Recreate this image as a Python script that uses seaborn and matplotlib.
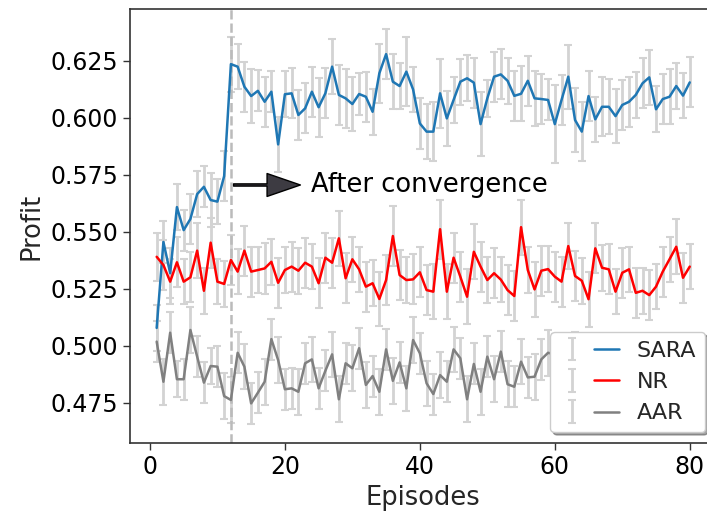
import numpy as np
import pandas as pd
import seaborn as sns
import matplotlib
matplotlib.use("Agg")
import matplotlib.pyplot as plt
from matplotlib.legend_handler import HandlerTuple

# ---- data -------------------------------------------------------------
episodes = list(range(1, 81))

sara = [0.5078, 0.5455, 0.5318, 0.5608, 0.5507, 0.5556, 0.5665, 0.5697, 0.5639, 0.5632,
        0.5744, 0.6235, 0.6224, 0.6136, 0.6095, 0.6118, 0.6070, 0.6114, 0.5883, 0.6103,
        0.6107, 0.6012, 0.6041, 0.6114, 0.6046, 0.6107, 0.6224, 0.6100, 0.6085, 0.6060,
        0.6104, 0.6092, 0.6026, 0.6195, 0.6279, 0.6158, 0.6139, 0.6202, 0.6124, 0.5975,
        0.5939, 0.5939, 0.6107, 0.5997, 0.6078, 0.6158, 0.6173, 0.6154, 0.5972, 0.6085,
        0.6180, 0.6190, 0.6162, 0.6096, 0.6105, 0.6162, 0.6085, 0.6082, 0.6078, 0.5972,
        0.6078, 0.6180, 0.5990, 0.5939, 0.6095, 0.5993, 0.6048, 0.6048, 0.6007, 0.6056,
        0.6070, 0.6100, 0.6151, 0.6177, 0.6037, 0.6082, 0.6092, 0.6139, 0.6097, 0.6155]
sara_err = [0.010, 0.009, 0.011, 0.010, 0.009, 0.011, 0.010, 0.009, 0.012, 0.010,
            0.011, 0.012, 0.010, 0.011, 0.012, 0.009, 0.011, 0.009, 0.012, 0.010,
            0.011, 0.011, 0.011, 0.011, 0.013, 0.011, 0.012, 0.013, 0.013, 0.012,
            0.009, 0.011, 0.010, 0.013, 0.011, 0.012, 0.010, 0.015, 0.010, 0.011,
            0.012, 0.013, 0.015, 0.012, 0.010, 0.010, 0.010, 0.011, 0.014, 0.008,
            0.011, 0.011, 0.010, 0.011, 0.012, 0.011, 0.012, 0.011, 0.009, 0.017,
            0.011, 0.014, 0.014, 0.013, 0.011, 0.010, 0.013, 0.012, 0.012, 0.011,
            0.011, 0.010, 0.011, 0.012, 0.010, 0.011, 0.012, 0.010, 0.010, 0.011]

nr = [0.5390, 0.5354, 0.5281, 0.5366, 0.5281, 0.5300, 0.5417, 0.5241, 0.5452, 0.5281,
      0.5271, 0.5376, 0.5325, 0.5417, 0.5325, 0.5332, 0.5339, 0.5368, 0.5276, 0.5332,
      0.5347, 0.5329, 0.5364, 0.5347, 0.5274, 0.5386, 0.5364, 0.5471, 0.5296, 0.5379,
      0.5335, 0.5259, 0.5274, 0.5205, 0.5288, 0.5481, 0.5310, 0.5288, 0.5291, 0.5322,
      0.5244, 0.5237, 0.5511, 0.5237, 0.5386, 0.5303, 0.5215, 0.5412, 0.5347, 0.5288,
      0.5318, 0.5290, 0.5244, 0.5218, 0.5520, 0.5332, 0.5247, 0.5329, 0.5336, 0.5303,
      0.5281, 0.5437, 0.5306, 0.5285, 0.5204, 0.5427, 0.5342, 0.5335, 0.5237, 0.5320,
      0.5335, 0.5232, 0.5241, 0.5222, 0.5259, 0.5325, 0.5379, 0.5434, 0.5298, 0.5347]
nr_err = [0.0105, 0.011, 0.010, 0.011, 0.010, 0.011, 0.012, 0.010, 0.011, 0.010,
          0.010, 0.011, 0.010, 0.011, 0.011, 0.010, 0.011, 0.010, 0.011, 0.010,
          0.011, 0.010, 0.011, 0.010, 0.011, 0.011, 0.011, 0.012, 0.011, 0.010,
          0.010, 0.011, 0.010, 0.012, 0.011, 0.013, 0.011, 0.010, 0.011, 0.011,
          0.011, 0.012, 0.013, 0.012, 0.011, 0.011, 0.012, 0.012, 0.011, 0.010,
          0.011, 0.010, 0.011, 0.011, 0.012, 0.010, 0.012, 0.011, 0.010, 0.011,
          0.011, 0.010, 0.011, 0.010, 0.012, 0.011, 0.010, 0.011, 0.010, 0.011,
          0.010, 0.011, 0.010, 0.011, 0.010, 0.011, 0.010, 0.012, 0.011, 0.010]

aar = [0.5018, 0.4842, 0.5057, 0.4853, 0.4853, 0.5069, 0.4952, 0.4838, 0.4911, 0.4908,
       0.4779, 0.4762, 0.4969, 0.4908, 0.4747, 0.4794, 0.4842, 0.5029, 0.4937, 0.4809,
       0.4813, 0.4798, 0.4923, 0.4940, 0.4813, 0.4890, 0.4962, 0.4765, 0.4923, 0.4901,
       0.4989, 0.4828, 0.4867, 0.4798, 0.4984, 0.4846, 0.4927, 0.4813, 0.5025, 0.4967,
       0.4835, 0.4788, 0.4871, 0.4842, 0.4984, 0.4945, 0.4765, 0.4920, 0.4798, 0.4952,
       0.4853, 0.4974, 0.4831, 0.4820, 0.4930, 0.4861, 0.4864, 0.4940, 0.4969, 0.4962,
       0.4835, 0.4905, 0.4960, 0.4880, 0.4925, 0.4870, 0.4950, 0.4895, 0.4860, 0.4935,
       0.4880, 0.4910, 0.4855, 0.4940, 0.4890, 0.4870, 0.4925, 0.4880, 0.4905, 0.4860]
aar_err = [0.009, 0.010, 0.009, 0.008, 0.009, 0.010, 0.009, 0.009, 0.008, 0.009,
           0.010, 0.010, 0.009, 0.010, 0.009, 0.009, 0.010, 0.009, 0.010, 0.009,
           0.009, 0.010, 0.009, 0.010, 0.009, 0.009, 0.010, 0.010, 0.009, 0.010,
           0.009, 0.010, 0.009, 0.010, 0.009, 0.010, 0.009, 0.010, 0.010, 0.009,
           0.010, 0.009, 0.010, 0.009, 0.010, 0.009, 0.010, 0.009, 0.010, 0.009,
           0.010, 0.009, 0.010, 0.009, 0.010, 0.009, 0.010, 0.009, 0.010, 0.009,
           0.010, 0.009, 0.010, 0.009, 0.010, 0.009, 0.010, 0.009, 0.010, 0.009,
           0.010, 0.009, 0.010, 0.009, 0.010, 0.009, 0.010, 0.009, 0.010, 0.009]

methods = ["SARA", "NR", "AAR"]
colors = {"SARA": "#1f77b4", "NR": "red", "AAR": "gray"}
convergence_episode = 12

df = pd.concat([
    pd.DataFrame({"Episode": episodes, "Profit": vals, "err": errs, "Method": name})
    for name, vals, errs in [("SARA", sara, sara_err), ("NR", nr, nr_err), ("AAR", aar, aar_err)]
], ignore_index=True)

# ---- figure -----------------------------------------------------------
sns.set_theme(style="ticks")
plt.rcParams["font.family"] = ["DejaVu Sans"]

fig = plt.figure(figsize=(7.07, 5.16), dpi=100)
ax = fig.add_axes([0.1839, 0.1409, 0.8294, 0.8417])

# light-gray error bars behind the mean curves
err_handles = []
for name in methods:
    sub = df[df["Method"] == name]
    eb = ax.errorbar(sub["Episode"], sub["Profit"], yerr=sub["err"], fmt="none",
                     ecolor="lightgray", elinewidth=2, capsize=3, capthick=1.5, zorder=1)
    err_handles.append(eb)

sns.lineplot(data=df, x="Episode", y="Profit", hue="Method", hue_order=methods,
             palette=colors, linewidth=1.8, legend=False, ax=ax, zorder=3)
lines = ax.get_lines()[-3:]
legend_handles = [(eb, ln) for eb, ln in zip(err_handles, lines)]

ax.axvline(convergence_episode, color="#bbbbbb", linestyle="--", linewidth=1.8, zorder=2)

ax.annotate("", xy=(22.3, 0.5705), xytext=(12.4, 0.5705),
            arrowprops=dict(facecolor="#3d3b42", edgecolor="black", linewidth=1.0,
                            width=1.6, headwidth=16.5, headlength=24, shrink=0))
ax.text(23.8, 0.5707, "After convergence", fontsize=18.5, va="center", ha="left",
        color="black")

ax.set_xlim(-2.95, 83.95)
ax.set_ylim(0.4572, 0.6477)
ax.set_xticks([0, 20, 40, 60, 80])
ax.set_yticks([0.475, 0.500, 0.525, 0.550, 0.575, 0.600, 0.625])
ax.yaxis.set_major_formatter(matplotlib.ticker.FormatStrFormatter("%.3f"))
ax.tick_params(labelsize=17, length=5, width=1, colors="#333333", labelcolor="black")
for sp in ax.spines.values():
    sp.set_color("#333333")
    sp.set_linewidth(1.2)
ax.set_xlabel("Episodes", fontsize=18.5)
ax.set_ylabel("Profit", fontsize=18.5)

leg = ax.legend(legend_handles, methods, loc="lower right", fontsize=16,
                shadow=True, framealpha=1, fancybox=True, handlelength=2.7,
                handler_map={tuple: HandlerTuple(ndivide=None)})
leg.get_frame().set_edgecolor("#cccccc")

fig.savefig("out.png", dpi=100)
